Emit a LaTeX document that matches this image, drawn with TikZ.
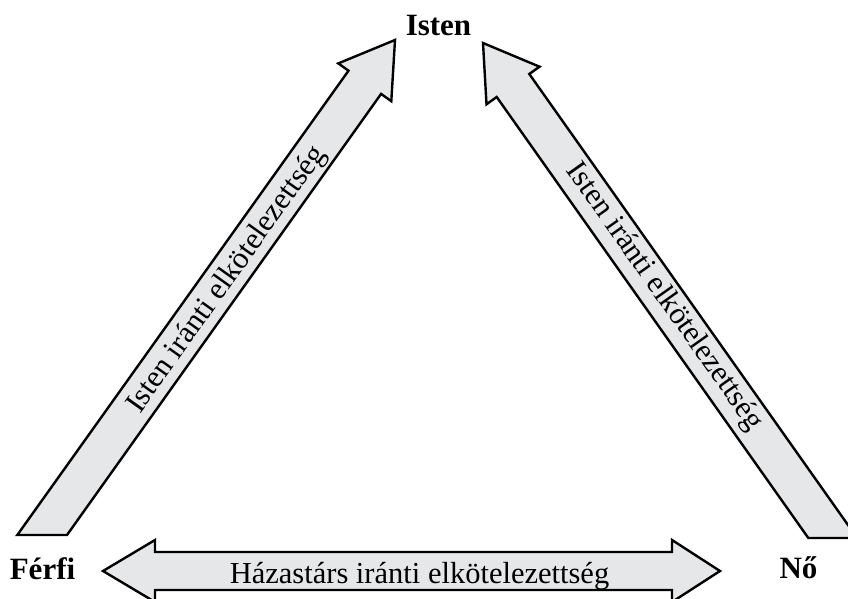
\documentclass[tikz,border=0pt]{standalone}
\usepackage{fontspec}
\setmainfont{Liberation Serif}
\definecolor{arrowgray}{RGB}{230,231,232}
\begin{document}
\begin{tikzpicture}[x=1pt, y=-1pt,
    blockarrow/.style={draw=black, line width=2.4pt, fill=arrowgray, line join=miter},
    person/.style={font=\fontsize{31}{35}\selectfont\bfseries, inner sep=0pt},
    bond/.style={font=\fontsize{30.5}{34}\selectfont, inner sep=0pt}]
    \clip (0,0) rectangle (848,599);

    % Man -> God
    \draw[blockarrow] (17.3,535) -- (348.5,70.7) -- (338.3,63.4) -- (395,40)
        -- (391.3,101.2) -- (381.1,93.9) -- (67,535) -- cycle;
    \node[bond, rotate=54.5] (ferfi-isten) at (227,280) {Isten iránti elkötelezettség};

    % Woman -> God
    \draw[blockarrow] (808.3,538) -- (496.7,97) -- (486.5,104.3) -- (483,43)
        -- (539.5,66.7) -- (529.3,74) -- (857.2,538) -- cycle;
    \node[bond, rotate=-54.75] (no-isten) at (664,297) {Isten iránti elkötelezettség};

    % Man <-> Woman
    \draw[blockarrow] (103,571) -- (155,540) -- (155,552) -- (672,552) -- (672,540)
        -- (720,571) -- (672,602) -- (672,590) -- (155,590) -- (155,602) -- cycle;
    \node[bond, anchor=base] (hazastars) at (419.5,583) {Házastárs iránti elkötelezettség};

    % Corners
    \node[person, anchor=base] (isten) at (438.5,36) {Isten};
    \node[person, anchor=base] (ferfi) at (42.5,579) {Férfi};
    \node[person, anchor=base] (no) at (798.5,578) {Nő};
\end{tikzpicture}
\end{document}
